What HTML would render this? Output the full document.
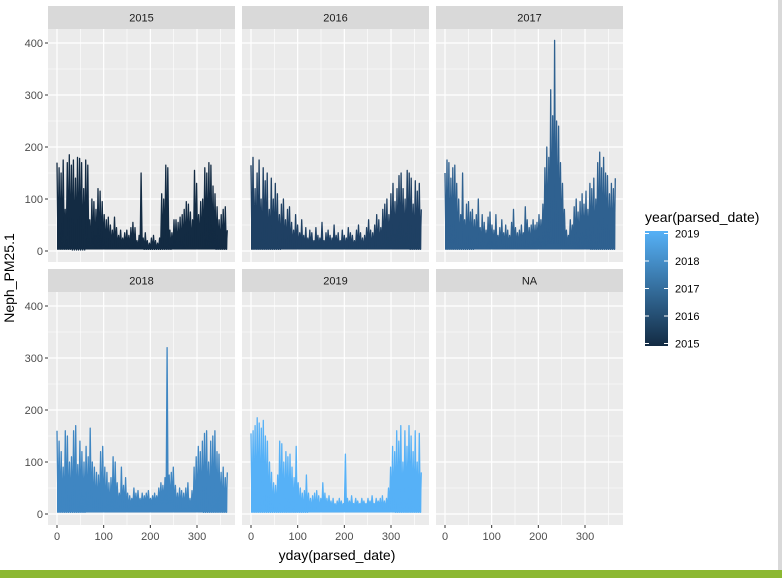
<!DOCTYPE html>
<html><head><meta charset="utf-8"><style>
html,body{margin:0;padding:0;background:#fff;}
body{width:782px;height:578px;overflow:hidden;position:relative;font-family:"Liberation Sans",Arial,sans-serif;}
</style></head><body>
<svg id="chart" width="782" height="578" xmlns="http://www.w3.org/2000/svg" style="position:absolute;left:0;top:0">
<rect x="0" y="0" width="782" height="578" fill="#fff"/>
<rect x="778" y="0" width="4" height="570" fill="#d9d9d9"/>
<rect x="0" y="570" width="782" height="8" fill="#8cb832"/>
<g id="panels"></g>
<text x="337" y="560" font-size="14" fill="#000" text-anchor="middle">yday(parsed_date)</text>
<text transform="translate(14,278) rotate(-90)" font-size="14" fill="#000" text-anchor="middle">Neph_PM25.1</text>
<g>
<text x="645" y="222" font-size="14" fill="#000">year(parsed_date)</text>
<defs><linearGradient id="lg" x1="0" y1="1" x2="0" y2="0">
<stop offset="0" stop-color="#132B43"/><stop offset="1" stop-color="#56B1F7"/></linearGradient></defs>
<rect x="645" y="231" width="23" height="115" fill="url(#lg)"/>
<g id="legend-ticks"></g>
</g>
</svg>
<script>
const years = ["2015","2016","2017","2018","2019","NA"];
const colors = ["#132B43","#1F4063","#2F6190","#3F86C2","#56B1F7"];
const yTicks = [0,100,200,300,400];
const xTicks = [0,100,200,300];
const peaks2015 = [170,160,150,175,80,170,185,165,175,140,180,178,170,120,175,165,60,100,95,80,120,115,95,70,60,65,50,40,65,45,30,40,25,35,40,30,45,55,45,20,30,150,25,35,20,15,25,30,20,15,25,110,100,165,160,40,35,60,60,55,65,70,80,95,90,75,60,155,130,70,95,100,160,150,170,165,125,110,85,60,70,80,85,40];
const peaks2016 = [165,180,120,150,175,100,160,135,150,80,140,100,130,110,70,90,100,60,80,85,55,40,70,50,35,60,30,45,25,40,35,20,45,30,25,55,20,35,40,30,25,50,30,35,20,40,30,25,45,35,30,20,40,50,35,25,30,45,60,40,35,50,70,60,45,80,90,100,70,110,130,95,120,145,150,120,100,155,150,140,90,135,115,130,80];
const peaks2017 = [150,175,170,140,160,165,130,100,70,150,60,90,95,75,80,60,70,100,45,70,55,40,65,75,50,40,70,30,45,60,35,50,40,30,55,80,45,35,40,50,35,85,60,45,50,60,50,55,70,60,90,160,200,180,310,260,405,250,240,170,130,80,40,30,60,50,85,100,75,95,110,90,115,80,130,120,140,100,170,190,160,180,150,145,110,130,120,140];
const peaks2018 = [160,140,120,90,160,150,100,110,160,170,95,140,120,100,130,110,165,100,90,80,75,120,130,90,80,60,70,110,100,60,40,90,55,70,40,35,30,50,40,45,30,40,35,40,45,30,35,40,35,50,60,55,70,320,75,80,90,55,40,50,45,40,50,60,30,45,90,110,130,120,140,155,160,100,140,150,160,120,115,80,90,70,80];
const peaks2019 = [155,160,170,185,175,165,180,150,140,100,80,60,55,75,140,135,100,120,110,115,90,70,130,60,50,40,45,75,40,30,35,40,45,35,30,60,40,30,35,25,30,20,25,30,25,20,115,30,25,35,20,30,25,20,30,25,20,30,25,35,20,30,25,30,35,25,30,50,90,130,120,160,140,170,100,160,130,170,150,120,160,100,155,80];
const lows2015 = [3,2,5,5,8,5,3,3,5,8,5,3];
const lows2016 = [3,3,4,5,6,6,5,4,5,6,4,3];
const lows2017 = [3,3,5,5,5,8,10,15,10,5,3,3];
const lows2018 = [3,3,5,5,10,15,18,20,10,5,3,3];
const lows2019 = [3,3,3,3,5,10,12,15,15,8,3,3];
const peaks = [peaks2015,peaks2016,peaks2017,peaks2018,peaks2019];
const lows = [lows2015,lows2016,lows2017,lows2018,lows2019];
const legendVals = [2015,2016,2017,2018,2019];

const NS="http://www.w3.org/2000/svg";
const colX=[48,242,436], rowY=[29,292], PW=187, PH=233, SH=23;
function xs(col,d){return colX[col]+9+d*0.4667;}
function ys(row,v){return rowY[row]+222-v*0.52;}
function mk(tag,attrs,parent){const e=document.createElementNS(NS,tag);for(const k in attrs)e.setAttribute(k,attrs[k]);parent.appendChild(e);return e;}
const root=document.getElementById('panels');
years.forEach((yr,i)=>{
  const col=i%3,row=Math.floor(i/3);
  const g=mk('g',{},root);
  
  
  const st=mk('rect',{x:colX[col],y:rowY[row]-SH,width:PW,height:SH,fill:'#D9D9D9'},g);
  
  
  const stt=mk('text',{x:colX[col]+PW/2,y:rowY[row]-SH/2+4,'font-size':11,fill:'#1A1A1A','text-anchor':'middle'},g);
  stt.textContent=yr;
  
  
  const bg=mk('rect',{x:colX[col],y:rowY[row],width:PW,height:PH,fill:'#EBEBEB'},g);
  
  
  [50,150,250,350].forEach(v=>{const y=ys(row,v);mk('line',{x1:colX[col],x2:colX[col]+PW,y1:y,y2:y,stroke:'#fff','stroke-width':0.6},g);});
  [50,150,250,350].forEach(d=>{const x=xs(col,d);mk('line',{x1:x,x2:x,y1:rowY[row],y2:rowY[row]+PH,stroke:'#fff','stroke-width':0.6},g);});
  yTicks.forEach(v=>{const y=ys(row,v);mk('line',{x1:colX[col],x2:colX[col]+PW,y1:y,y2:y,stroke:'#fff','stroke-width':1.2},g);});
  xTicks.forEach(d=>{const x=xs(col,d);mk('line',{x1:x,x2:x,y1:rowY[row],y2:rowY[row]+PH,stroke:'#fff','stroke-width':1.2},g);});
  if(col===0){
    yTicks.forEach(v=>{const y=ys(row,v);
      mk('line',{x1:colX[0]-3,x2:colX[0],y1:y,y2:y,stroke:'#333','stroke-width':1},g);
      const t=mk('text',{x:colX[0]-5,y:y+4,'font-size':11,fill:'#4D4D4D','text-anchor':'end'},g);
      t.textContent=v;
      
      });
  }
  if(row===1){
    xTicks.forEach(d=>{const x=xs(col,d);
      mk('line',{x1:x,x2:x,y1:rowY[1]+PH,y2:rowY[1]+PH+3,stroke:'#333','stroke-width':1},g);
      const t=mk('text',{x:x,y:rowY[1]+PH+15,'font-size':11,fill:'#4D4D4D','text-anchor':'middle'},g);
      t.textContent=d;
      
      });
  }
  if(i<5){
    const pk=peaks[i], lw=lows[i], n=pk.length, step=365/(n-1);
    let pts=[];
    for(let k=0;k<n;k++){
      const d=k*step;
      pts.push([xs(col,d),ys(row,pk[k])]);
      if(k<n-1){const lv=lw[Math.floor(k*lw.length/n)];pts.push([xs(col,d+step/2),ys(row,lv)]);}
    }
    const ptsStr=pts.map(p=>p[0].toFixed(1)+','+p[1].toFixed(1)).join(' ');
    const area=mk('polygon',{points:ptsStr+' '+xs(col,365).toFixed(1)+','+ys(row,3)+' '+xs(col,0).toFixed(1)+','+ys(row,3),fill:colors[i]},g);
    
    
    const ln=mk('polyline',{points:ptsStr,fill:'none',stroke:colors[i],'stroke-width':1.3,'stroke-linejoin':'round'},g);
    
    
  }
});
const lt=document.getElementById('legend-ticks');
legendVals.forEach(v=>{
  const y=346-(v-2015)/4*110-2.5;
  mk('line',{x1:645,x2:649,y1:y,y2:y,stroke:'#fff','stroke-width':1},lt);
  mk('line',{x1:664,x2:668,y1:y,y2:y,stroke:'#fff','stroke-width':1},lt);
  const t=mk('text',{x:675,y:y+4,'font-size':11,fill:'#000'},lt);
  t.textContent=v;
  
  
});
</script>
</body></html>
